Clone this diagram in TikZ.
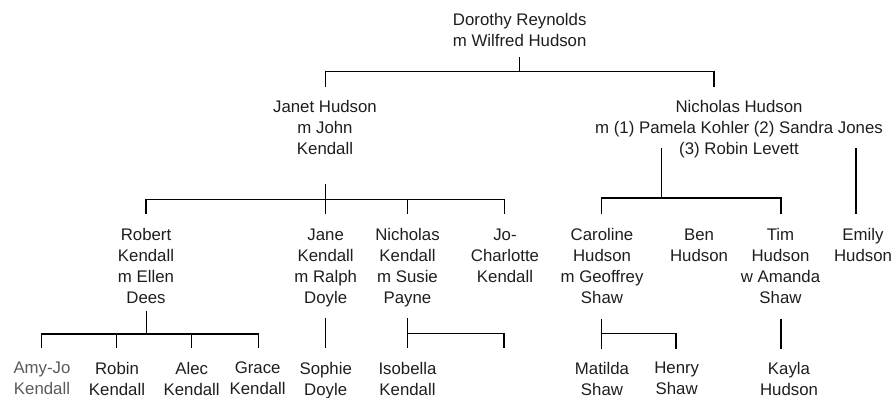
\documentclass[tikz,border=0pt]{standalone}
\usepackage{fontspec}
\setmainfont{Liberation Sans}
\definecolor{ink}{HTML}{1E1E1E}
\definecolor{faded}{HTML}{5A5A5A}
\begin{document}
\begin{tikzpicture}[x=1pt,y=-1pt,
  person/.style={align=center, anchor=north, inner sep=0pt, text=ink,
                 font=\fontsize{16.8}{21}\selectfont},
  link/.style={line width=1.05pt, draw=black, line cap=rect}]
\useasboundingbox (0,0) rectangle (892,398);

% generation 1
\node[person] (dorothy) at (519.7,12.8) {Dorothy Reynolds\\m Wilfred Hudson};

% generation 2
\node[person] (janet)    at (325,100.3) {Janet Hudson\\m John\\Kendall};
\node[person] (nicholas) at (739,99.8)  {Nicholas Hudson\\m (1) Pamela Kohler (2) Sandra Jones\\(3) Robin Levett};

% generation 3
\node[person] (robert)   at (146,228.3)   {Robert\\Kendall\\m Ellen\\Dees};
\node[person] (jane)     at (325.7,228.3) {Jane\\Kendall\\m Ralph\\Doyle};
\node[person] (nickk)    at (407.5,228.3) {Nicholas\\Kendall\\m Susie\\Payne};
\node[person] (jocharl)  at (505,228.3)   {Jo-\\Charlotte\\Kendall};
\node[person] (caroline) at (602,228.3)   {Caroline\\Hudson\\m Geoffrey\\Shaw};
\node[person] (ben)      at (699,228.3)   {Ben\\Hudson};
\node[person] (tim)      at (780.5,228.3) {Tim\\Hudson\\w Amanda\\Shaw};
\node[person] (emily)    at (863,228.3)   {Emily\\Hudson};

% generation 4
\node[person, text=faded] (amyjo) at (42,361.8) {Amy-Jo\\Kendall};
\node[person] (robin)    at (117,361.8)   {Robin\\Kendall};
\node[person] (alec)     at (191.7,361.8) {Alec\\Kendall};
\node[person] (grace)    at (257.7,361.8) {Grace\\Kendall};
\node[person] (sophie)   at (325.7,361.8) {Sophie\\Doyle};
\node[person] (isobella) at (407.5,361.8) {Isobella\\Kendall};
\node[person] (matilda)  at (602,361.8)   {Matilda\\Shaw};
\node[person] (henry)    at (676.7,361.8) {Henry\\Shaw};
\node[person] (kayla)    at (789,361.8)   {Kayla\\Hudson};

% connector points
\coordinate (d-stem)   at (519.7,57.7);
\coordinate (d-bar)    at (519.7,71.7);
\coordinate (janet-in) at (325.5,86);
\coordinate (nich-in)  at (714,86);

\coordinate (j-stem)     at (325.5,184.5);
\coordinate (j-bar)      at (325.5,199.3);
\coordinate (robert-in)  at (146,213.3);
\coordinate (jane-in)    at (325.5,213.3);
\coordinate (nickk-in)   at (407.7,213.3);
\coordinate (jo-in)      at (504.5,213.3);

\coordinate (n-stem)     at (661.7,148.3);
\coordinate (n-bar)      at (661.7,198);
\coordinate (caroline-in) at (601.7,213.7);
\coordinate (tim-in)     at (781,213.7);
\coordinate (e-stem)     at (856,148.3);
\coordinate (emily-in)   at (856,213.7);

\coordinate (r-stem)     at (146.7,311.7);
\coordinate (r-bar)      at (146.7,334);
\coordinate (amyjo-in)   at (41.7,347.7);
\coordinate (robin-in)   at (116.7,347.7);
\coordinate (alec-in)    at (191.3,347.7);
\coordinate (grace-in)   at (258.3,347.7);

\coordinate (jn-stem)    at (325.7,319);
\coordinate (sophie-in)  at (325.7,347.5);

\coordinate (nk-stem)    at (407.7,319);
\coordinate (nk-bar)     at (407.7,333.3);
\coordinate (isobella-in) at (407.7,347.5);
\coordinate (nk-end)     at (504,347.5);

\coordinate (c-stem)     at (601.7,319.3);
\coordinate (c-bar)      at (601.7,333.3);
\coordinate (matilda-in) at (601.7,348);
\coordinate (henry-in)   at (676,348);

\coordinate (t-stem)     at (781,319.3);
\coordinate (kayla-in)   at (781,348);

% Dorothy's children
\draw[link] (d-stem) -- (d-bar);
\draw[link] (janet-in) |- (d-bar) -| (nich-in);

% Janet's children
\draw[link] (j-stem) -- (jane-in);
\draw[link] (robert-in) |- (j-bar) -| (jo-in);
\draw[link] (nickk-in) -- (nickk-in |- j-bar);

% Nicholas's children
\draw[link] (n-stem) -- (n-bar);
\draw[link] (caroline-in) |- (n-bar) -| (tim-in);
\draw[link] (e-stem) -- (emily-in);

% Robert's children
\draw[link] (r-stem) -- (r-bar);
\draw[link] (amyjo-in) |- (r-bar) -| (grace-in);
\draw[link] (robin-in) -- (robin-in |- r-bar);
\draw[link] (alec-in) -- (alec-in |- r-bar);

% Jane's child
\draw[link] (jn-stem) -- (sophie-in);

% Nicholas Kendall's children
\draw[link] (nk-stem) -- (isobella-in);
\draw[link] (nk-bar) -| (nk-end);

% Caroline's children
\draw[link] (c-stem) -- (matilda-in);
\draw[link] (c-bar) -| (henry-in);

% Tim's child
\draw[link] (t-stem) -- (kayla-in);
\end{tikzpicture}
\end{document}
